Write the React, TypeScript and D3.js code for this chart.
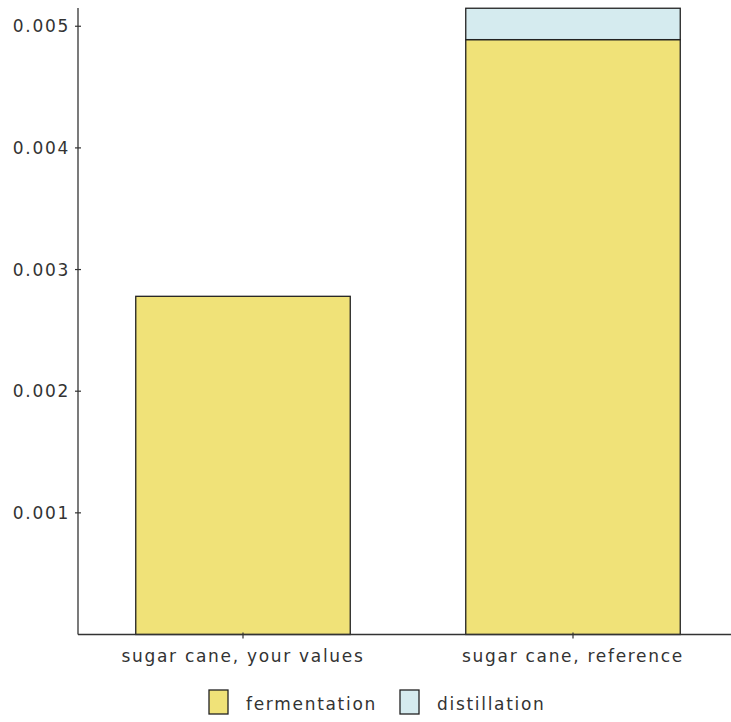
import React from "react";
import * as d3 from "d3";

const categories = ["sugar cane, your values", "sugar cane, reference"];
const seriesNames = ["fermentation", "distillation"];
const fermentation = [0.00278, 0.00489];
const distillation = [0, 0.000258];
const yTicks = [0.001, 0.002, 0.003, 0.004, 0.005];
const colors = ["#f0e278", "#d5ebef"];

export default function App() {
  const W = 731, H = 722;
  const left = 78, bottom = 634.5, top = 8;
  const x = d3.scaleBand<string>().domain(categories).range([78, 738]).paddingInner(0.35).paddingOuter(0.175);
  const y = d3.scaleLinear().domain([0, 0.00515]).range([bottom, top]);
  const rows = categories.map((c, i) => ({ cat: c, fermentation: fermentation[i], distillation: distillation[i] }));
  const stack = d3.stack<any>().keys(seriesNames)(rows);
  const font = { fontFamily: "DejaVu Sans", fontSize: 17, letterSpacing: 1.7, fill: "#333" };
  const legendX = [209, 400];
  return (
    <svg width={W} height={H} style={{ position: "absolute", left: 0, top: 0 }}>
      {stack.map((s, si) =>
        s.map((d, i) => {
          const h = y(d[0]) - y(d[1]);
          if (h <= 0) return null;
          return (
            <rect key={si + "-" + i} x={x(categories[i])} y={y(d[1])} width={x.bandwidth()} height={h}
              fill={colors[si]} stroke="#222" strokeWidth={1.3} />
          );
        })
      )}
      <line x1={left} x2={left} y1={top} y2={bottom} stroke="#333" strokeWidth={1.3} />
      <line x1={left} x2={W} y1={bottom} y2={bottom} stroke="#333" strokeWidth={1.3} />
      {yTicks.map((t) => (
        <g key={t}>
          <line x1={left - 3} x2={left + 3} y1={y(t)} y2={y(t)} stroke="#333" strokeWidth={1.2} />
          <text x={left - 8} y={y(t) + 6} textAnchor="end" {...font}>{d3.format(".3f")(t)}</text>
        </g>
      ))}
      {categories.map((c) => {
        const cx = x(c)! + x.bandwidth() / 2;
        return (
          <g key={c}>
            <line x1={cx} x2={cx} y1={bottom - 2} y2={bottom + 4} stroke="#333" strokeWidth={1.2} />
            <text x={cx} y={662} textAnchor="middle" {...font}>{c}</text>
          </g>
        );
      })}
      {seriesNames.map((s, i) => (
        <g key={s}>
          <rect x={legendX[i]} y={690} width={19} height={24} fill={colors[i]} stroke="#222" strokeWidth={1.3} />
          <text x={legendX[i] + 37} y={710} {...font}>{s}</text>
        </g>
      ))}
    </svg>
  );
}
